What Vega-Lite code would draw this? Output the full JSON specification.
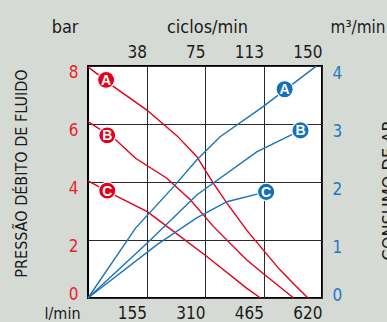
{
  "$schema": "https://vega.github.io/schema/vega-lite/v6.json",
  "autosize": "none",
  "width": 234,
  "height": 232,
  "padding": {"left": 88, "top": 66, "right": 65, "bottom": 24},
  "background": "#d6dad5",
  "config": {
    "font": "DejaVu Sans Condensed, sans-serif",
    "view": {"fill": "white", "stroke": "black", "strokeWidth": 2},
    "axis": {
      "labelFontSize": 17, "titleFontSize": 18, "titleFontWeight": "normal",
      "labelColor": "#1a1a1a", "titleColor": "#1a1a1a",
      "ticks": false, "tickSize": 0, "domain": false, "grid": false,
      "labelFlush": false, "labelBound": false, "labelOverlap": false
    }
  },
  "datasets": {
    "curves": [
      {"series": "pA", "kind": "p", "x": 0, "v": 7.97},
      {"series": "pA", "kind": "p", "x": 68, "v": 7.29},
      {"series": "pA", "kind": "p", "x": 156, "v": 6.48},
      {"series": "pA", "kind": "p", "x": 236, "v": 5.59},
      {"series": "pA", "kind": "p", "x": 288, "v": 4.88},
      {"series": "pA", "kind": "p", "x": 332, "v": 3.96},
      {"series": "pA", "kind": "p", "x": 368, "v": 3.27},
      {"series": "pA", "kind": "p", "x": 420, "v": 2.35},
      {"series": "pA", "kind": "p", "x": 464, "v": 1.66},
      {"series": "pA", "kind": "p", "x": 508, "v": 0.98},
      {"series": "pA", "kind": "p", "x": 552, "v": 0.4},
      {"series": "pA", "kind": "p", "x": 583, "v": 0},
      {"series": "pB", "kind": "p", "x": 0, "v": 6.08},
      {"series": "pB", "kind": "p", "x": 69, "v": 5.51},
      {"series": "pB", "kind": "p", "x": 126, "v": 4.82},
      {"series": "pB", "kind": "p", "x": 209, "v": 4.13},
      {"series": "pB", "kind": "p", "x": 271, "v": 3.39},
      {"series": "pB", "kind": "p", "x": 332, "v": 2.47},
      {"series": "pB", "kind": "p", "x": 420, "v": 1.32},
      {"series": "pB", "kind": "p", "x": 473, "v": 0.75},
      {"series": "pB", "kind": "p", "x": 545, "v": 0},
      {"series": "pC", "kind": "p", "x": 0, "v": 4.04},
      {"series": "pC", "kind": "p", "x": 69, "v": 3.56},
      {"series": "pC", "kind": "p", "x": 157, "v": 2.98},
      {"series": "pC", "kind": "p", "x": 209, "v": 2.47},
      {"series": "pC", "kind": "p", "x": 315, "v": 1.43},
      {"series": "pC", "kind": "p", "x": 420, "v": 0.34},
      {"series": "pC", "kind": "p", "x": 457, "v": 0},
      {"series": "fA", "kind": "f", "x": 0, "v": 0},
      {"series": "fA", "kind": "f", "x": 126, "v": 1.205},
      {"series": "fA", "kind": "f", "x": 227, "v": 1.92},
      {"series": "fA", "kind": "f", "x": 288, "v": 2.38},
      {"series": "fA", "kind": "f", "x": 350, "v": 2.78},
      {"series": "fA", "kind": "f", "x": 464, "v": 3.3},
      {"series": "fA", "kind": "f", "x": 603, "v": 3.99},
      {"series": "fB", "kind": "f", "x": 0, "v": 0},
      {"series": "fB", "kind": "f", "x": 157, "v": 0.95},
      {"series": "fB", "kind": "f", "x": 289, "v": 1.78},
      {"series": "fB", "kind": "f", "x": 447, "v": 2.52},
      {"series": "fB", "kind": "f", "x": 563, "v": 2.89},
      {"series": "fC", "kind": "f", "x": 0, "v": 0},
      {"series": "fC", "kind": "f", "x": 183, "v": 0.92},
      {"series": "fC", "kind": "f", "x": 288, "v": 1.38},
      {"series": "fC", "kind": "f", "x": 368, "v": 1.66},
      {"series": "fC", "kind": "f", "x": 472, "v": 1.83}
    ],
    "markers": [
      {"label": "A", "kind": "p", "x": 48, "v": 7.52},
      {"label": "B", "kind": "p", "x": 51, "v": 5.61},
      {"label": "C", "kind": "p", "x": 51, "v": 3.7},
      {"label": "A", "kind": "f", "x": 521, "v": 3.6},
      {"label": "B", "kind": "f", "x": 563, "v": 2.89},
      {"label": "C", "kind": "f", "x": 472, "v": 1.83}
    ]
  },
  "resolve": {"scale": {"y": "independent"}, "axis": {"x": "independent", "y": "independent"}},
  "layer": [
    {
      "data": {"name": "curves"},
      "transform": [{"filter": "datum.kind == 'p'"}],
      "mark": {"type": "line", "color": "#e2001a", "strokeWidth": 1.4},
      "encoding": {
        "detail": {"field": "series"},
        "x": {"field": "x", "type": "quantitative", "scale": {"domain": [0, 620], "nice": false, "zero": false},
          "axis": {"orient": "bottom", "values": [155, 310, 465, 620], "grid": true, "gridColor": "#2a2a2a", "gridWidth": 1,
            "labelAlign": "right", "labelBaseline": "alphabetic", "labelPadding": 20,
            "title": "l/min", "titleFontSize": 16, "titleAngle": 0, "titleAlign": "right", "titleBaseline": "alphabetic", "titleX": -8, "titleY": 20}},
        "y": {"field": "v", "type": "quantitative", "scale": {"domain": [0, 8], "nice": false},
          "axis": {"orient": "left", "values": [0, 2, 4, 6, 8], "grid": true, "gridColor": "#2a2a2a", "gridWidth": 1,
            "labelColor": "#e8232b", "labelAlign": "right", "labelBaseline": "alphabetic", "labelPadding": 10,
            "labelOffset": {"condition": {"test": "datum.value == 0", "value": 1}, "value": 11},
            "title": "PRESSÃO DÉBITO DE FLUIDO", "titleFontSize": 16, "titleAngle": -90, "titleAlign": "center", "titleBaseline": "alphabetic", "titleX": -62, "titleY": 107}}
      }
    },
    {
      "data": {"name": "markers"},
      "transform": [{"filter": "datum.kind == 'p'"}],
      "mark": {"type": "circle", "color": "#e2001a", "opacity": 1, "size": 290, "stroke": "white", "strokeWidth": 1.2},
      "encoding": {
        "x": {"field": "x", "type": "quantitative",
          "axis": {"orient": "top", "values": [155, 310, 465, 620],
            "labelExpr": "datum.value == 155 ? '38' : datum.value == 310 ? '75' : datum.value == 465 ? '113' : '150'",
            "labelAlign": "right", "labelBaseline": "alphabetic", "labelPadding": 9,
            "title": "ciclos/min", "titleFontSize": 18, "titleAngle": 0, "titleAlign": "center", "titleBaseline": "alphabetic", "titleX": 119, "titleY": -34}},
        "y": {"field": "v", "type": "quantitative", "scale": {"domain": [0, 8], "nice": false},
          "axis": {"orient": "left", "labels": false, "title": "bar", "titleFontSize": 18, "titleAngle": 0, "titleAlign": "right", "titleBaseline": "alphabetic", "titleX": -10, "titleY": -34}}
      }
    },
    {
      "data": {"name": "markers"},
      "transform": [{"filter": "datum.kind == 'p'"}],
      "mark": {"type": "text", "color": "white", "font": "Liberation Sans", "fontWeight": "bold", "fontSize": 14, "baseline": "middle", "dy": 1},
      "encoding": {
        "text": {"field": "label"},
        "x": {"field": "x", "type": "quantitative", "axis": null},
        "y": {"field": "v", "type": "quantitative", "scale": {"domain": [0, 8], "nice": false}, "axis": null}
      }
    },
    {
      "data": {"name": "curves"},
      "transform": [{"filter": "datum.kind == 'f'"}],
      "mark": {"type": "line", "color": "#1a74bb", "strokeWidth": 1.4},
      "encoding": {
        "detail": {"field": "series"},
        "x": {"field": "x", "type": "quantitative", "axis": null},
        "y": {"field": "v", "type": "quantitative", "scale": {"domain": [0, 4], "nice": false},
          "axis": {"orient": "right", "values": [0, 1, 2, 3, 4],
            "labelColor": "#2378c0", "labelAlign": "left", "labelBaseline": "alphabetic", "labelPadding": 10,
            "labelOffset": {"condition": {"test": "datum.value == 0", "value": 2}, "value": 12},
            "title": "CONSUMO DE AR", "titleFontSize": 18, "titleAngle": -90, "titleAlign": "center", "titleBaseline": "alphabetic", "titleX": 72, "titleY": 124}}
      }
    },
    {
      "data": {"name": "markers"},
      "transform": [{"filter": "datum.kind == 'f'"}],
      "mark": {"type": "circle", "color": "#1470b8", "opacity": 1, "size": 300, "stroke": "white", "strokeWidth": 1.2},
      "encoding": {
        "x": {"field": "x", "type": "quantitative", "axis": null},
        "y": {"field": "v", "type": "quantitative", "scale": {"domain": [0, 4], "nice": false},
          "axis": {"orient": "right", "labels": false, "title": "m³/min", "titleFontSize": 17, "titleAngle": 0, "titleAlign": "left", "titleBaseline": "alphabetic", "titleX": 8, "titleY": -34}}
      }
    },
    {
      "data": {"name": "markers"},
      "transform": [{"filter": "datum.kind == 'f'"}],
      "mark": {"type": "text", "color": "white", "font": "Liberation Sans", "fontWeight": "bold", "fontSize": 14, "baseline": "middle", "dy": 1},
      "encoding": {
        "text": {"field": "label"},
        "x": {"field": "x", "type": "quantitative", "axis": null},
        "y": {"field": "v", "type": "quantitative", "scale": {"domain": [0, 4], "nice": false}, "axis": null}
      }
    }
  ]
}
